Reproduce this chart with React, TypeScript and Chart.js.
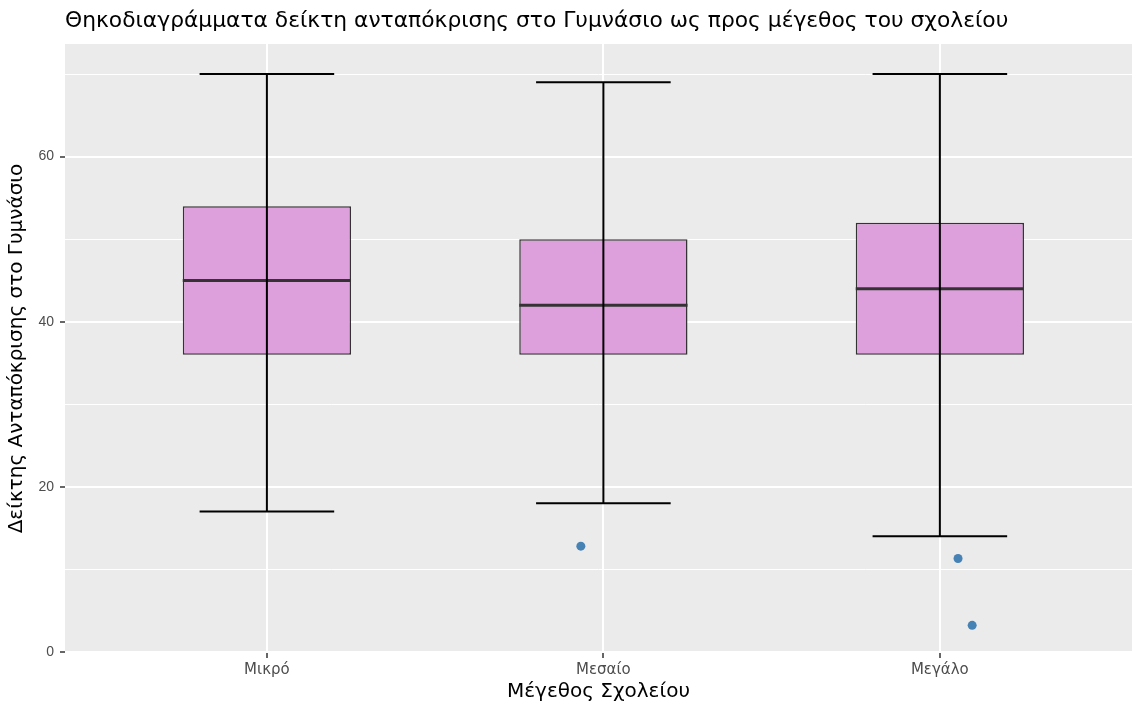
import React, { useEffect, useRef } from "react";
import { Chart, registerables } from "chart.js";

Chart.register(...registerables);

const categories = ["Μικρό", "Μεσαίο", "Μεγάλο"];
const whiskerLow = [17, 18, 14];
const q1 = [36, 36, 36];
const median = [45, 42, 44];
const q3 = [54, 50, 52];
const whiskerHigh = [70, 69, 70];
const outlierCategory = [2, 3, 3];
const outlierJitter = [-0.067, 0.054, 0.096];
const outlierValue = [12.8, 11.3, 3.2];
const yTicks = [0, 10, 20, 30, 40, 50, 60, 70];

const TITLE = "Θηκοδιαγράμματα δείκτη ανταπόκρισης στο Γυμνάσιο ως προς μέγεθος του σχολείου";
const FONT = "'Liberation Sans', Arial, Helvetica, sans-serif";
const GFONT = "'DejaVu Sans', 'Liberation Sans', sans-serif";

const panelPlugin = {
  id: "panel",
  beforeDraw(chart: any) {
    const { ctx, chartArea } = chart;
    ctx.save();
    ctx.fillStyle = "#EBEBEB";
    ctx.fillRect(chartArea.left, chartArea.top, chartArea.right - chartArea.left, chartArea.bottom - chartArea.top);
    ctx.restore();
  },
  afterDraw(chart: any) {
    const { ctx, chartArea } = chart;
    ctx.save();
    ctx.fillStyle = "#000000";
    ctx.font = `21.8px ${GFONT}`;
    ctx.textBaseline = "middle";
    ctx.textAlign = "left";
    ctx.fillText(TITLE, chartArea.left, 21);
    ctx.restore();
  },
};

const whiskerPlugin = {
  id: "whiskers",
  afterDatasetsDraw(chart: any) {
    const { ctx, scales } = chart;
    const xs = scales.x;
    const ys = scales.y;
    ctx.save();
    categories.forEach((_, i) => {
      const c = i + 1;
      ctx.strokeStyle = "#333333";
      ctx.lineWidth = 3;
      ctx.beginPath();
      ctx.moveTo(xs.getPixelForValue(c - 0.25), ys.getPixelForValue(median[i]));
      ctx.lineTo(xs.getPixelForValue(c + 0.25), ys.getPixelForValue(median[i]));
      ctx.stroke();
      ctx.strokeStyle = "#000000";
      ctx.lineWidth = 2;
      const cx = xs.getPixelForValue(c);
      ctx.beginPath();
      ctx.moveTo(cx, ys.getPixelForValue(whiskerLow[i]));
      ctx.lineTo(cx, ys.getPixelForValue(whiskerHigh[i]));
      ctx.moveTo(xs.getPixelForValue(c - 0.2), ys.getPixelForValue(whiskerLow[i]));
      ctx.lineTo(xs.getPixelForValue(c + 0.2), ys.getPixelForValue(whiskerLow[i]));
      ctx.moveTo(xs.getPixelForValue(c - 0.2), ys.getPixelForValue(whiskerHigh[i]));
      ctx.lineTo(xs.getPixelForValue(c + 0.2), ys.getPixelForValue(whiskerHigh[i]));
      ctx.stroke();
    });
    ctx.restore();
  },
};

export default function App() {
  const ref = useRef<HTMLCanvasElement | null>(null);
  useEffect(() => {
    if (!ref.current) return;
    const chart = new Chart(ref.current, {
      type: "bar",
      data: {
        datasets: [
          {
            type: "bar",
            data: categories.map((_, i) => ({ x: i + 1, y: [q1[i], q3[i]] })) as any,
            backgroundColor: "#DDA0DD",
            borderColor: "#333333",
            borderWidth: 1.5,
            borderSkipped: false,
            categoryPercentage: 1,
            barPercentage: 0.5,
            grouped: false,
          } as any,
          {
            type: "scatter",
            data: outlierValue.map((v, i) => ({ x: outlierCategory[i] + outlierJitter[i], y: v })),
            backgroundColor: "#4682B4",
            borderWidth: 0,
            pointRadius: 4.5,
          } as any,
        ],
      },
      options: {
        responsive: false,
        animation: false,
        layout: { autoPadding: false, padding: { top: 44, left: 0, right: 0, bottom: 0 } },
        plugins: { legend: { display: false }, tooltip: { enabled: false }, title: { display: false } },
        scales: {
          x: {
            type: "linear",
            min: 0.4,
            max: 3.571,
            offset: false,
            afterBuildTicks: (s: any) => {
              s.ticks = categories.map((_, i) => ({ value: i + 1 }));
            },
            afterFit: (s: any) => {
              s.height = 51;
            },
            ticks: {
              autoSkip: false,
              maxRotation: 0,
              padding: 3,
              color: "#4D4D4D",
              font: { family: GFONT, size: 15 },
              callback: (v: any) => categories[Math.round(Number(v)) - 1] ?? "",
            },
            grid: {
              offset: false,
              color: "#FFFFFF",
              lineWidth: 2,
              tickColor: "#333333",
              tickLength: 5,
              tickWidth: 1.5,
            },
            border: { display: false },
            title: {
              display: true,
              text: "Μέγεθος Σχολείου",
              color: "#000000",
              font: { family: GFONT, size: 20 },
              padding: { top: 0, bottom: 0 },
            },
          },
          y: {
            type: "linear",
            min: -0.15,
            max: 73.65,
            afterBuildTicks: (s: any) => {
              s.ticks = yTicks.map((v) => ({ value: v }));
            },
            afterFit: (s: any) => {
              s.width = 65;
            },
            ticks: {
              padding: 6,
              color: "#4D4D4D",
              font: { family: FONT, size: 14 },
              callback: (v: any) => (Number(v) % 20 === 0 ? String(v) : ""),
            },
            grid: {
              color: "#FFFFFF",
              lineWidth: (ctx: any) => (ctx.tick && ctx.tick.value % 20 === 0 ? 2 : 1),
              tickColor: (ctx: any) => (ctx.tick && ctx.tick.value % 20 === 0 ? "#333333" : "rgba(0,0,0,0)"),
              tickLength: 5,
              tickWidth: 1.5,
            },
            border: { display: false },
            title: {
              display: true,
              text: "Δείκτης Ανταπόκρισης στο Γυμνάσιο",
              color: "#000000",
              font: { family: GFONT, size: 20 },
              padding: { top: 5, bottom: 0 },
            },
          },
        },
      } as any,
      plugins: [panelPlugin, whiskerPlugin],
    });
    return () => chart.destroy();
  }, []);
  return (
    <div style={{ position: "absolute", left: 0, top: 0, width: 1132, height: 704, background: "#FFFFFF" }}>
      <canvas ref={ref} width={1132} height={704} />
    </div>
  );
}
